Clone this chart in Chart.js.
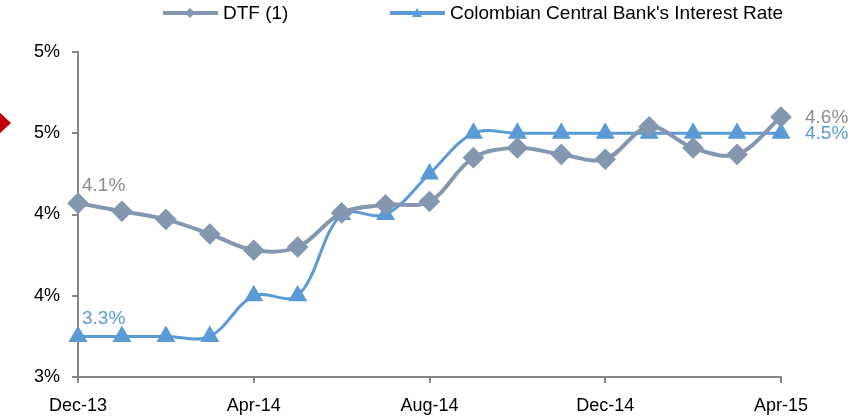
<!DOCTYPE html>
<html lang="en">
<head>
    <meta charset="UTF-8">
    <title>DTF vs Central Bank Rate</title>
    <script src="https://cdn.jsdelivr.net/npm/chart.js"></script>
    <style>
        html, body { margin: 0; padding: 0; background: #fff; }
        #wrap { width: 864px; height: 419px; position: relative; }
    </style>
</head>
<body>
<div id="wrap"><canvas id="chart"></canvas></div>
<script>
const months = ['Dec-13', 'Jan-14', 'Feb-14', 'Mar-14', 'Apr-14', 'May-14', 'Jun-14', 'Jul-14',
    'Aug-14', 'Sep-14', 'Oct-14', 'Nov-14', 'Dec-14', 'Jan-15', 'Feb-15', 'Mar-15', 'Apr-15'];
const dtf = [4.07, 4.02, 3.97, 3.88, 3.78, 3.80, 4.01, 4.06, 4.08, 4.35, 4.41, 4.37, 4.34, 4.54, 4.41, 4.37, 4.60];
const cbRate = [3.25, 3.25, 3.25, 3.25, 3.50, 3.50, 4.00, 4.00, 4.25, 4.50, 4.50, 4.50, 4.50, 4.50, 4.50, 4.50, 4.50];
const seriesNames = ['DTF (1)', "Colombian Central Bank's Interest Rate"];

const FONT = 'Liberation Sans';
const GRAY = '#8497B0';
const BLUE = '#5B9BD5';

// end labels (first and last value) + legend + red marker on the left
const decor = {
    id: 'decor',
    afterDatasetsDraw(chart) {
        const ctx = chart.ctx;
        ctx.save();
        ctx.font = '19px ' + FONT;
        ctx.textBaseline = 'middle';
        const sets = [
            { i: 0, color: '#8C8C8C', first: -17, last: 1 },
            { i: 1, color: BLUE, first: -18, last: 1 }
        ];
        sets.forEach(s => {
            const meta = chart.getDatasetMeta(s.i);
            const data = chart.data.datasets[s.i].data;
            const p0 = meta.data[0];
            const pN = meta.data[data.length - 1];
            ctx.fillStyle = s.color;
            ctx.textAlign = 'left';
            ctx.fillText(data[0].toFixed(1) + '%', p0.x + 4, p0.y + s.first);
            ctx.fillText(data[data.length - 1].toFixed(1) + '%', pN.x + 24, pN.y + s.last);
        });

        // legend
        ctx.font = '19px ' + FONT;
        const items = [
            { x: 163, color: GRAY, style: 'diamond', text: seriesNames[0] },
            { x: 390, color: BLUE, style: 'triangle', text: seriesNames[1] }
        ];
        const ly = 13;
        items.forEach(it => {
            ctx.strokeStyle = it.color;
            ctx.lineWidth = 4;
            ctx.beginPath();
            ctx.moveTo(it.x, ly);
            ctx.lineTo(it.x + 55, ly);
            ctx.stroke();
            ctx.fillStyle = it.color;
            const cx = it.x + 27;
            ctx.beginPath();
            if (it.style === 'diamond') {
                ctx.moveTo(cx, ly - 5); ctx.lineTo(cx + 5, ly); ctx.lineTo(cx, ly + 5); ctx.lineTo(cx - 5, ly);
            } else {
                ctx.moveTo(cx, ly - 5); ctx.lineTo(cx + 5, ly + 4); ctx.lineTo(cx - 5, ly + 4);
            }
            ctx.closePath();
            ctx.fill();
            ctx.fillStyle = '#000';
            ctx.textAlign = 'left';
            ctx.fillText(it.text, it.x + 60, ly + 1);
        });

        // red arrow marker at the left edge
        ctx.fillStyle = '#C00000';
        ctx.beginPath();
        ctx.moveTo(-3, 110);
        ctx.lineTo(11, 123);
        ctx.lineTo(-3, 136);
        ctx.closePath();
        ctx.fill();
        ctx.restore();
    }
};

new Chart(document.getElementById('chart'), {
    type: 'line',
    data: {
        labels: months,
        datasets: [
            {
                label: seriesNames[0],
                data: dtf,
                borderColor: GRAY,
                backgroundColor: GRAY,
                borderWidth: 4,
                pointStyle: 'rectRot',
                pointRadius: 8,
                pointHoverRadius: 8,
                tension: 0.35
            },
            {
                label: seriesNames[1],
                data: cbRate,
                borderColor: BLUE,
                backgroundColor: BLUE,
                borderWidth: 3,
                pointStyle: 'triangle',
                pointRadius: 8,
                pointHoverRadius: 8,
                tension: 0.35
            }
        ]
    },
    options: {
        responsive: true,
        maintainAspectRatio: false,
        animation: false,
        layout: { padding: { top: 52, right: 83, left: 0, bottom: 0 } },
        plugins: {
            legend: { display: false },
            tooltip: { enabled: false }
        },
        scales: {
            x: {
                offset: false,
                afterFit(scale) { scale.height = 42; },
                grid: { drawOnChartArea: false, color: '#868686', tickLength: 6, lineWidth: 2 },
                border: { color: '#868686', width: 2 },
                ticks: {
                    autoSkip: false,
                    maxRotation: 0,
                    color: '#000',
                    font: { family: FONT, size: 18 },
                    padding: 12,
                    callback: function(v, i) { return i % 4 === 0 ? months[i] : null; }
                }
            },
            y: {
                min: 3,
                max: 5,
                afterFit(scale) { scale.width = 78; },
                grid: { drawOnChartArea: false, color: '#868686', tickLength: 6, lineWidth: 2 },
                border: { color: '#868686', width: 2 },
                ticks: {
                    stepSize: 0.5,
                    color: '#000',
                    font: { family: FONT, size: 18 },
                    padding: 12,
                    callback: v => Math.round(v) + '%'
                }
            }
        }
    },
    plugins: [decor]
});
</script>
</body>
</html>
